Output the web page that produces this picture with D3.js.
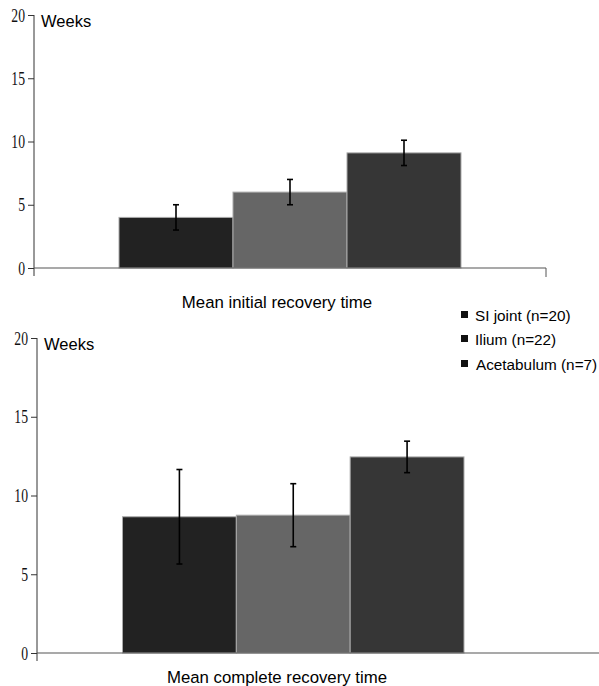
<!DOCTYPE html>
<html>
<head>
<meta charset="utf-8">
<script src="https://cdn.jsdelivr.net/npm/d3@7"></script>
<style>
  body { margin: 0; background: #fff; }
  svg { display: block; }
</style>
</head>
<body>
<div id="chart"></div>
<script>
var categories = ["SI joint (n=20)", "Ilium (n=22)", "Acetabulum (n=7)"];
var colors = ["#222222", "#666666", "#363636"];
var initialMeans = [4, 6, 9.1];
var initialErr = [1, 1, 1];
var completeMeans = [8.65, 8.75, 12.45];
var completeErr = [3, 2, 1];
var yTicks = [0, 5, 10, 15, 20];

var width = 599, height = 686;
var sans = "'Liberation Sans', Arial, sans-serif";
var svg = d3.select("#chart").append("svg")
	.attr("width", width)
	.attr("height", height);

function drawPanel(opts) {
	var g = svg.append("g");
	var y = d3.scaleLinear().domain([0, 20]).range([opts.y0, opts.y20]);
	var x = d3.scaleBand().domain(categories).range([opts.barL, opts.barR]).padding(0);

	// bars
	g.selectAll("rect")
		.data(opts.means)
		.enter().append("rect")
		.attr("x", function(d, i) { return x(categories[i]); })
		.attr("width", x.bandwidth())
		.attr("y", function(d) { return y(d); })
		.attr("height", function(d) { return y(0) - y(d); })
		.attr("fill", function(d, i) { return colors[i]; })
		.attr("stroke", "#aaa")
		.attr("stroke-width", 1);

	// error bars
	var eb = g.selectAll(".err")
		.data(opts.means)
		.enter().append("g").attr("class", "err")
		.attr("stroke", "#000")
		.attr("stroke-width", 1.6);
	eb.append("line")
		.attr("x1", function(d, i) { return x(categories[i]) + x.bandwidth() / 2; })
		.attr("x2", function(d, i) { return x(categories[i]) + x.bandwidth() / 2; })
		.attr("y1", function(d, i) { return y(d + opts.err[i]); })
		.attr("y2", function(d, i) { return y(d - opts.err[i]); });
	[1, -1].forEach(function(s) {
		eb.append("line")
			.attr("x1", function(d, i) { return x(categories[i]) + x.bandwidth() / 2 - 3; })
			.attr("x2", function(d, i) { return x(categories[i]) + x.bandwidth() / 2 + 3; })
			.attr("y1", function(d, i) { return y(d + s * opts.err[i]); })
			.attr("y2", function(d, i) { return y(d + s * opts.err[i]); });
	});

	// y axis
	var axis = d3.axisLeft(y).tickValues(yTicks).tickSize(6).tickSizeOuter(0).tickPadding(3);
	var ag = g.append("g")
		.attr("transform", "translate(" + opts.axisX + ",0)")
		.call(axis);
	ag.select(".domain").remove();
	ag.selectAll(".tick line").attr("stroke", "#333");
	// condensed serif digits
	ag.selectAll(".tick text")
		.attr("x", -9 / 0.76)
		.attr("dy", "0.34em")
		.attr("transform", "scale(0.76,1)")
		.style("font-family", "'Liberation Serif', 'Times New Roman', serif")
		.style("font-size", "18px")
		.attr("fill", "#111");
	g.append("line")
		.attr("x1", opts.axisX).attr("x2", opts.axisX)
		.attr("y1", y(20)).attr("y2", y(0) + 8)
		.attr("stroke", "#333");

	// baseline
	g.append("line")
		.attr("x1", opts.axisX).attr("x2", opts.baseR)
		.attr("y1", y(0)).attr("y2", y(0))
		.attr("stroke", "#555").attr("stroke-width", 1.2);
	if (opts.endTick) {
		g.append("line")
			.attr("x1", opts.baseR).attr("x2", opts.baseR)
			.attr("y1", y(0)).attr("y2", y(0) + 9)
			.attr("stroke", "#555");
	}

	g.append("text")
		.attr("x", opts.axisX + 7).attr("y", y(20) + 12)
		.style("font-family", sans)
		.style("font-size", "16.5px")
		.text("Weeks");

	g.append("text")
		.attr("x", 277).attr("y", opts.titleY)
		.attr("text-anchor", "middle")
		.style("font-family", sans)
		.style("font-size", "16.8px")
		.text(opts.title);
}

drawPanel({
	means: initialMeans, err: initialErr,
	y0: 268, y20: 15, axisX: 34, barL: 119, barR: 461, baseR: 546, endTick: true,
	titleY: 308, title: "Mean initial recovery time"
});

drawPanel({
	means: completeMeans, err: completeErr,
	y0: 653, y20: 338, axisX: 37, barL: 122.5, barR: 464, baseR: 599, endTick: false,
	titleY: 683, title: "Mean complete recovery time"
});

// legend
var legend = svg.append("g").attr("transform", "translate(461,315)");
var rows = legend.selectAll("g")
	.data(categories)
	.enter().append("g")
	.attr("transform", function(d, i) { return "translate(0," + [0, 24, 49][i] + ")"; });
rows.append("rect")
	.attr("x", 0).attr("y", -4)
	.attr("width", 7).attr("height", 7)
	.attr("fill", "#111");
rows.append("text")
	.attr("x", function(d, i) { return i == 2 ? 15 : 14; })
	.attr("y", 5.5)
	.style("font-family", sans)
	.style("font-size", "15.3px")
	.text(function(d) { return d; });
</script>
</body>
</html>
